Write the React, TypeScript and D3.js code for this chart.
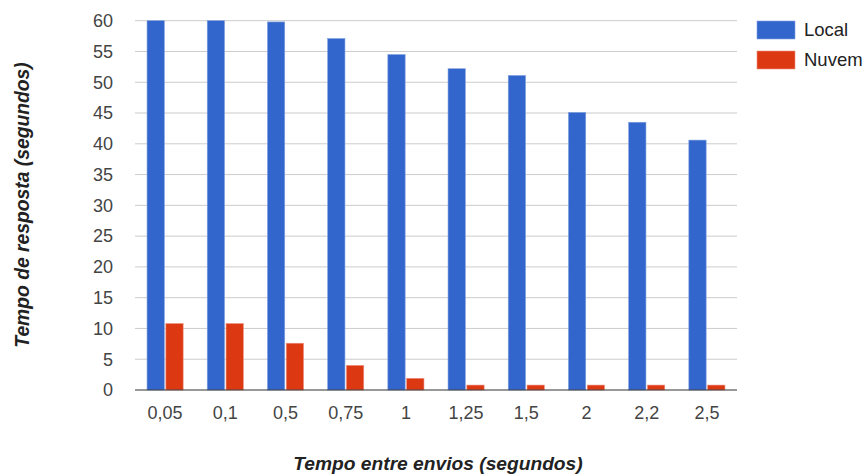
import React from "react";
import * as d3 from "d3";

const categories = ["0,05", "0,1", "0,5", "0,75", "1", "1,25", "1,5", "2", "2,2", "2,5"];
const localValues = [60, 60, 59.8, 57.1, 54.5, 52.2, 51.1, 45.1, 43.5, 40.6];
const nuvemValues = [10.8, 10.8, 7.6, 4.0, 1.9, 0.8, 0.8, 0.8, 0.8, 0.8];
const seriesNames = ["Local", "Nuvem"];
const seriesColors = ["#3366cc", "#dc3912"];
const seriesStroke = ["#7fa0e0", "#ee9080"];
const yTicks = [0, 5, 10, 15, 20, 25, 30, 35, 40, 45, 50, 55, 60];

const W = 867;
const H = 474;
const left = 135;
const right = 737;
const top = 20.7;
const bottom = 390;

export default function App() {
  const x = d3.scaleBand<string>().domain(categories).range([left, right]).paddingInner(0.4).paddingOuter(0.2);
  const xs = d3.scaleBand<string>().domain(seriesNames).range([0, x.bandwidth()]).paddingInner(0.08);
  const y = d3.scaleLinear().domain([0, 60]).range([bottom, top]);
  const series = [localValues, nuvemValues];
  const font = "Arial, 'Liberation Sans', sans-serif";

  return (
    <svg width={W} height={H} style={{ position: "absolute", left: 0, top: 0, background: "#fff" }} fontFamily={font}>
      {yTicks.map((t) => (
        <g key={t}>
          {t !== 0 && <line x1={left} x2={right} y1={y(t)} y2={y(t)} stroke="#cccccc" strokeWidth={1} />}
          <text x={113} y={y(t)} dy="0.35em" textAnchor="end" fontSize={18} fill="#444">
            {t}
          </text>
        </g>
      ))}
      {categories.map((c, i) => (
        <g key={c}>
          {series.map((vals, si) => (
            <rect
              key={si}
              x={(x(c) ?? 0) + (xs(seriesNames[si]) ?? 0)}
              y={y(vals[i])}
              width={xs.bandwidth()}
              height={bottom - y(vals[i])}
              fill={seriesColors[si]}
              stroke={seriesStroke[si]}
              strokeWidth={0.6}
            />
          ))}
          <text x={(x(c) ?? 0) + x.bandwidth() / 2} y={419} textAnchor="middle" fontSize={18} fill="#444">
            {c}
          </text>
        </g>
      ))}
      <line x1={left} x2={right} y1={bottom} y2={bottom} stroke="#333" strokeWidth={1.2} />
      {seriesNames.map((s, i) => (
        <g key={s}>
          <rect x={757} y={21 + i * 30} width={38} height={18} fill={seriesColors[i]} stroke={seriesStroke[i]} strokeWidth={0.6} />
          <text x={804} y={30 + i * 30} dy="0.35em" fontSize={18.5} fill="#222">
            {s}
          </text>
        </g>
      ))}
      <text
        transform={`translate(22,205) rotate(-90)`}
        textAnchor="middle"
        dy="0.35em"
        fontSize={19.3}
        fontWeight="bold"
        fontStyle="italic"
        fill="#222"
      >
        Tempo de resposta (segundos)
      </text>
      <text x={438} y={470} textAnchor="middle" fontSize={19.2} fontWeight="bold" fontStyle="italic" fill="#222">
        Tempo entre envios (segundos)
      </text>
    </svg>
  );
}
